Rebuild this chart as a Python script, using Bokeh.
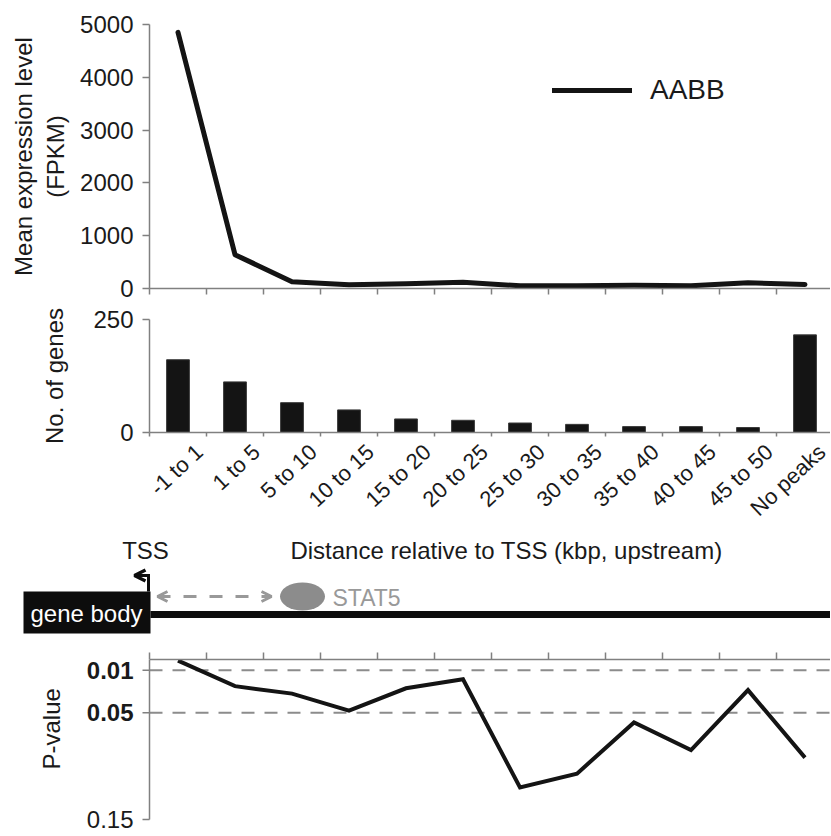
import math
from bokeh.plotting import figure
from bokeh.layouts import column, row
from bokeh.models import (Range1d, FixedTicker, Arrow, OpenHead)
from bokeh.core.properties import value
from bokeh.embed import file_html
from bokeh.resources import INLINE

# ---------------- data ----------------
categories = ["-1 to 1", "1 to 5", "5 to 10", "10 to 15", "15 to 20", "20 to 25",
              "25 to 30", "30 to 35", "35 to 40", "40 to 45", "45 to 50", "No peaks"]
expression = [4850, 640, 130, 70, 90, 120, 50, 50, 60, 50, 110, 75]
gene_counts = [161, 112, 66, 50, 30, 27, 21, 18, 13, 13, 11, 216]
p_values = [0.001, 0.025, 0.032, 0.048, 0.027, 0.0185, 0.120, 0.107, 0.059, 0.085, 0.0287, 0.092]
expr_ticks = [0, 1000, 2000, 3000, 4000, 5000]
gene_ticks = [0, 250]
p_ticks = [0.01, 0.05, 0.15]
p_ticks_bold = [0.01, 0.05]
p_ticks_plain = [0.15]
series_name = "AABB"

FONT = value("Liberation Sans")
TXT = "#1a1a1a"
AX = "#808080"
INK = "#141414"
W = 830
LEFT = 149
UNIT = 57.0  # pixels per category

centers = [i + 0.5 for i in range(len(categories))]
boundaries = list(range(len(categories)))
xr = Range1d(0, (W - LEFT) / UNIT)


def style_common(p):
    p.outline_line_color = None
    p.xgrid.visible = False
    p.ygrid.visible = False
    for ax in p.axis:
        ax.axis_line_color = AX
        ax.axis_line_width = 1.5
        ax.major_tick_line_color = AX
        ax.major_tick_line_width = 1.5
        ax.minor_tick_line_color = None
        ax.major_label_text_font = "Liberation Sans"
        ax.major_label_text_color = TXT
        ax.axis_label_text_font = "Liberation Sans"
        ax.axis_label_text_color = TXT
        ax.axis_label_text_font_style = "normal"


def boundary_ticks(ax, length):
    ax.ticker = FixedTicker(ticks=[], minor_ticks=boundaries)
    ax.minor_tick_line_color = AX
    ax.minor_tick_line_width = 1.5
    ax.minor_tick_out = length
    ax.minor_tick_in = 0
    ax.major_label_standoff = 0


# ---------------- top: mean expression ----------------
p1 = figure(width=W, height=303, x_range=xr, y_range=Range1d(0, 5000),
            output_backend="svg", toolbar_location=None,
            min_border_left=LEFT, min_border_right=0, min_border_top=24, min_border_bottom=15)
p1.line(centers, expression, line_color=INK, line_width=5, line_join="round",
        line_cap="round", legend_label=series_name)
style_common(p1)
p1.yaxis.ticker = FixedTicker(ticks=expr_ticks)
p1.yaxis.major_tick_out = 7
p1.yaxis.major_tick_in = 0
p1.yaxis.major_label_standoff = 9
p1.yaxis.major_label_text_font_size = "24px"
p1.yaxis.axis_label = "Mean expression level\n(FPKM)"
p1.yaxis.axis_label_text_font_size = "24px"
p1.yaxis.axis_label_standoff = 8
boundary_ticks(p1.xaxis[0], 6)
leg = p1.legend[0]
leg.location = (403, 182)
leg.glyph_width = 80
leg.glyph_height = 30
leg.label_text_font = "Liberation Sans"
leg.label_text_font_size = "28px"
leg.label_text_color = TXT
leg.label_standoff = 18
leg.padding = 0
leg.margin = 0
leg.border_line_color = None
leg.background_fill_alpha = 0

# ---------------- middle: number of genes ----------------
p2 = figure(width=W, height=232, x_range=xr, y_range=Range1d(0, 250),
            output_backend="svg", toolbar_location=None,
            min_border_left=LEFT, min_border_right=0, min_border_top=16, min_border_bottom=103)
p2.vbar(x=centers, top=gene_counts, width=0.4, fill_color=INK, line_color="#3a3a3a", line_width=1)
style_common(p2)
p2.yaxis.ticker = FixedTicker(ticks=gene_ticks)
p2.yaxis.major_tick_out = 7
p2.yaxis.major_tick_in = 0
p2.yaxis.major_label_standoff = 9
p2.yaxis.major_label_text_font_size = "24px"
p2.yaxis.axis_label = "No. of genes"
p2.yaxis.axis_label_text_font_size = "24px"
p2.yaxis.axis_label_standoff = 22
label_pos = [i + 0.875 for i in range(len(categories))]
p2.xaxis.ticker = FixedTicker(ticks=label_pos, minor_ticks=boundaries)
p2.xaxis.major_label_overrides = {pos: c for pos, c in zip(label_pos, categories)}
p2.xaxis.major_label_orientation = 0.75
p2.xaxis.major_label_text_font_size = "22px"
p2.xaxis.major_label_standoff = 12
p2.xaxis.major_tick_out = 0
p2.xaxis.major_tick_in = 0
p2.xaxis.minor_tick_line_color = AX
p2.xaxis.minor_tick_line_width = 1.5
p2.xaxis.minor_tick_out = 4
p2.xaxis.minor_tick_in = 0

# ---------------- diagram (schematic, in page-pixel units) ----------------
p3 = figure(width=W, height=105, x_range=Range1d(0, W), y_range=Range1d(640, 535),
            output_backend="svg", toolbar_location=None, x_axis_type=None, y_axis_type=None,
            min_border_left=0, min_border_right=0, min_border_top=0, min_border_bottom=0)
p3.outline_line_color = None
p3.xgrid.visible = False
p3.ygrid.visible = False
p3.text(x=[145], y=[550], text=["TSS"], text_align="center", text_baseline="middle",
        text_font=FONT, text_font_size="24px", text_color=TXT)
p3.text(x=[506], y=[550], text=["Distance relative to TSS (kbp, upstream)"],
        text_align="center", text_baseline="middle",
        text_font=FONT, text_font_size="24px", text_color=TXT)
p3.quad(left=[23], right=[150], top=[591], bottom=[633], fill_color="#0d0d0d", line_color=None)
p3.text(x=[86], y=[613], text=["gene body"], text_align="center", text_baseline="middle",
        text_font=FONT, text_font_size="24px", text_color="white")
p3.segment(x0=[150], y0=[614], x1=[W], y1=[614], line_color="#0d0d0d", line_width=7)
p3.segment(x0=[148], y0=[591], x1=[148], y1=[575], line_color="#0d0d0d", line_width=3)
p3.add_layout(Arrow(x_start=149.5, y_start=575, x_end=134, y_end=575,
                    line_color="#0d0d0d", line_width=3,
                    end=OpenHead(size=11, line_width=3.5, line_color="#0d0d0d")))
p3.add_layout(Arrow(x_start=157, y_start=596, x_end=271, y_end=596,
                    line_color="#999999", line_width=3, line_dash="13 13",
                    start=OpenHead(size=10, line_width=3, line_color="#999999"),
                    end=OpenHead(size=10, line_width=3, line_color="#999999")))
p3.ellipse(x=[302], y=[596], width=45, height=28, fill_color="#8c8c8c", line_color=None)
p3.text(x=[332], y=[597], text=["STAT5"], text_align="left", text_baseline="middle",
        text_font=FONT, text_font_size="23px", text_color="#999999")

# ---------------- bottom: P-value ----------------
# The frame spans the full width so the y-axis (with mixed bold / plain labels)
# is drawn on the plot's own scales.
P4_H, P4_TOP = 194, 19
P_AT_015 = 160.0           # pixels from frame top to the 0.15 level
p_bottom = 0.15 * (P4_H - P4_TOP) / P_AT_015
xr4 = Range1d(-LEFT / UNIT, (W - LEFT) / UNIT)
p4 = figure(width=W, height=P4_H, x_range=xr4, y_range=Range1d(p_bottom, 0.0),
            output_backend="svg", toolbar_location=None, x_axis_location="above",
            y_axis_type=None,
            min_border_left=0, min_border_right=0, min_border_top=P4_TOP, min_border_bottom=0)
x_end = (W - LEFT) / UNIT
for lvl in (0.01, 0.05):
    p4.segment(x0=[0], y0=[lvl], x1=[x_end], y1=[lvl], line_color="#8c8c8c",
               line_width=2, line_dash="13 10")
p4.line(centers, p_values, line_color=INK, line_width=4, line_join="miter")
style_common(p4)
p4.xaxis.bounds = (0, x_end)
boundary_ticks(p4.xaxis[0], 7)
# y axis: line, ticks, labels
p4.segment(x0=[0], y0=[0], x1=[0], y1=[max(p_ticks)], line_color=AX, line_width=1.5)
p4.segment(x0=[-7 / UNIT] * len(p_ticks), y0=p_ticks, x1=[0] * len(p_ticks), y1=p_ticks,
           line_color=AX, line_width=1.5)
p4.text(x=[-16 / UNIT] * len(p_ticks_bold), y=p_ticks_bold, text=[str(t) for t in p_ticks_bold],
        text_align="right", text_baseline="middle", text_font=FONT, text_font_size="24px",
        text_font_style="bold", text_color=TXT)
p4.text(x=[-16 / UNIT] * len(p_ticks_plain), y=p_ticks_plain, text=[str(t) for t in p_ticks_plain],
        text_align="right", text_baseline="middle", text_font=FONT, text_font_size="24px",
        text_font_style="normal", text_color=TXT)
p4.text(x=[-98 / UNIT], y=[0.065], text=["P-value"], angle=math.pi / 2,
        text_align="center", text_baseline="middle", text_font=FONT, text_font_size="24px",
        text_color=TXT)

layout = column(p1, p2, row(p3), row(p4), spacing=0)
open("out.html", "w").write(file_html(layout, INLINE))
